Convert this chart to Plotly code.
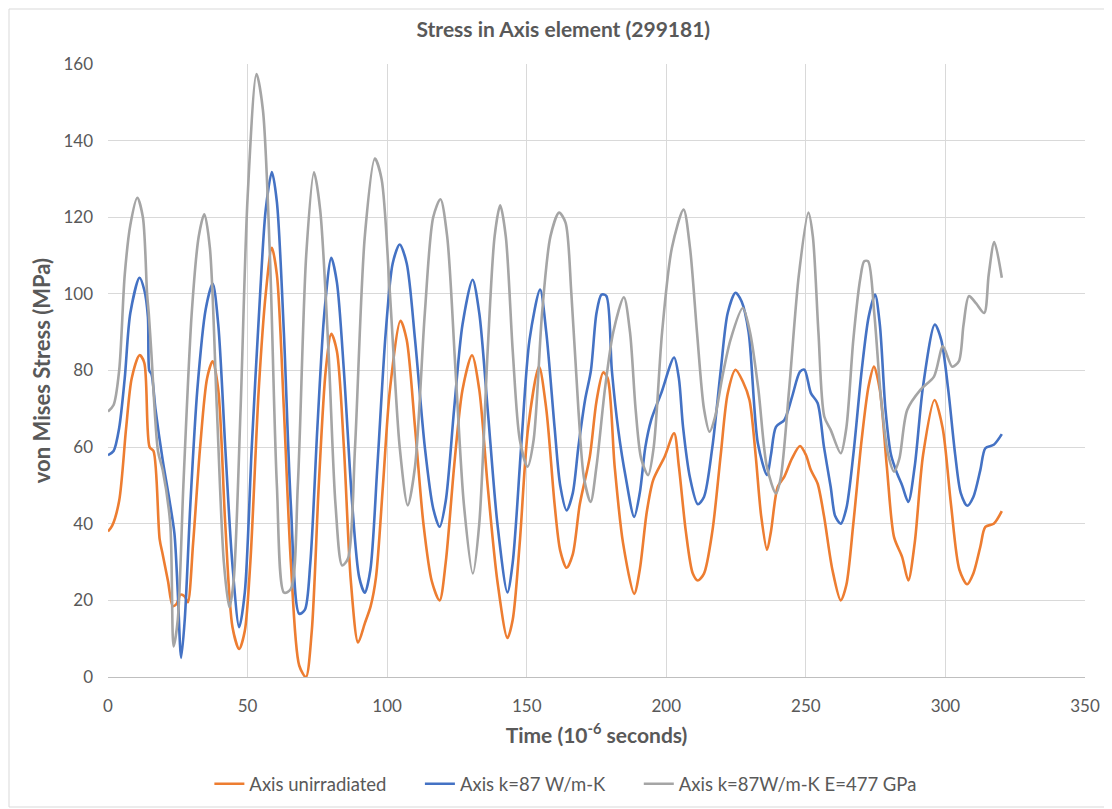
import plotly.graph_objects as go

# ---- data (time in 10^-6 s, von Mises stress in MPa) ----
t_unirr = [0, 1.5, 4, 6.5, 8.5, 11.3, 13, 14.9, 16.3, 18.5, 19.6, 21.5, 23.2, 24.5, 26, 27.5, 28.6, 30.5, 33, 35.5, 37.5,
           39.5, 42, 44.6, 47, 49, 51, 54, 56.5, 58.7, 60.5, 63, 65.5, 68.5, 70.9, 73, 75.5, 78, 80, 82, 84.5, 87, 89.6,
           92, 94.1, 96, 98.5, 101, 104.8, 107, 110, 113, 116, 118.8, 121, 124, 127, 130.4, 133, 136, 139.5, 143.1, 145,
           147.5, 150.5, 154.4, 157, 160, 162, 164.3, 166.5, 169, 172.6, 175, 177.4, 179, 181.5, 184.5, 188.5, 190.5,
           193, 195.3, 199.4, 202.8, 204.5, 207, 209.5, 211.3, 213.5, 216.5, 219.5, 222, 224.8, 227.5, 229.8, 232, 234,
           236.1, 237.5, 239.9, 242.3, 245, 247.9, 250, 251.8, 254.2, 256.5, 259.5, 262.5, 264.5, 267, 270, 272.5,
           274.4, 276.5, 279, 281.6, 284.5, 286.7, 289, 292, 296.1, 299, 302, 305, 307.8, 310, 312.5, 314.3, 317.3, 320.2]
v_unirr = [38, 39.5, 46, 65, 78, 84, 82, 60, 59, 36, 32, 25, 18.5, 19, 21.5, 21, 19.5, 35, 60, 78, 82.4,
           75, 40, 13, 7.3, 12, 30, 75, 100, 112, 105, 70, 30, 3, 0, 12, 50, 80, 89.6, 85, 60, 25, 9,
           14, 18.5, 26, 50, 75, 93, 88, 65, 40, 25, 20, 30, 55, 75, 84, 75, 50, 25, 10.2, 15,
           35, 65, 81, 70, 45, 33, 28.5, 32, 45, 57.5, 72, 79.5, 78, 55, 35, 21.7, 28,
           43, 51.4, 57.5, 63.6, 55, 38, 27, 25.2, 27, 38, 58, 74, 80.2, 77, 72.3, 58, 42,
           33.2, 38, 49.6, 52.3, 57, 60.3, 58, 54, 50.5, 42, 28, 20, 24, 40, 62, 76,
           81, 75, 55, 36.5, 31.3, 25.2, 35, 58, 72.3, 65, 45, 28, 24.2, 27, 34, 39.2, 40, 43.3]

t_k87 = [0, 2, 4, 6, 8, 11.3, 13, 14.3, 14.8, 15.6, 17, 19.6, 22, 23.8, 25, 26.2, 27.5, 29.5, 32, 35, 37.5,
         39.5, 42, 44.5, 47, 49, 51.5, 54.5, 56.5, 58.7, 60.5, 63, 65.5, 68.5, 70.5, 72.5, 75, 77.5, 80, 82, 84.5,
         87.5, 90, 92, 94, 96.5, 99.5, 102, 104.5, 107, 110, 113.5, 116.5, 118.8, 121, 124, 127, 130.6, 133, 136,
         139.5, 143.1, 145, 148, 151, 154.8, 157, 160, 162, 164.3, 166.5, 168.5, 170.9, 173, 175, 176.8, 178.5,
         180.5, 182.8, 185.5, 188.5, 190.5, 192.5, 194.6, 198.2, 202.8, 204.5, 206, 208.5, 211.3, 213.5, 216.5,
         219.5, 222, 224.8, 227, 229.5, 232.8, 236.1, 237.5, 239.3, 242.3, 245, 247.9, 249.5, 251.8, 254.2, 256.5,
         258.9, 260.5, 262.5, 264.5, 267, 270, 272.5, 274.8, 276.5, 278.5, 280.5, 282.7, 284.5, 286.7, 289, 292,
         296.2, 298.5, 301, 303.5, 305.5, 307.8, 310, 312.5, 314.3, 317.3, 320.2]
v_k87 = [57.9, 59, 65, 78, 95, 104.2, 101, 94, 80, 79, 70, 56.6, 46.2, 37.4, 22, 5, 15, 45, 75, 96, 102.7,
         92, 60, 30, 13, 22, 60, 100, 122, 131.8, 124, 90, 45, 16.5, 17.5, 30, 65, 95, 109.4, 103, 80,
         45, 26, 22, 28, 55, 90, 108, 112.9, 108, 88, 60, 44, 39.2, 46, 70, 92, 103.7, 95, 70,
         40, 22.1, 30, 60, 88, 101.1, 90, 65, 50, 43.5, 48, 60, 72.3, 80, 95, 99.8, 99.5,
         80, 64.5, 52, 41.8, 48, 60, 67.1, 74.1, 83.4, 78, 65.3, 52, 45.1, 47, 60,
         80, 95, 100.3, 98, 90, 61, 52.7, 58, 65.3, 67.1, 73, 79.7, 80.2, 74.1, 71.5, 60,
         49.6, 42, 40, 44, 58, 80, 94, 99.8, 92, 70, 58, 53.1, 50, 45.7, 55, 76,
         92, 88, 75, 58, 48, 44.7, 47, 54, 59.7, 60.6, 63.4]

t_k87e = [0, 2, 4, 6, 8, 10.5, 12.5, 14, 14.6, 15.5, 17.9, 19.6, 22.3, 23.5, 25, 27, 30, 32.5, 34.5, 36.5, 39,
          41.5, 43.5, 45, 47.5, 50, 53.2, 55.5, 58, 60.5, 63.1, 65.5, 68, 71, 73.8, 76, 79, 81.5, 83.9, 86, 88.5,
          92, 95.6, 98, 101, 104.5, 107.4, 110, 113.5, 116.5, 119.1, 121.5, 124.5, 127.5, 130.7, 133, 136, 138.5,
          140.5, 142.5, 145, 147.5, 150.3, 152.5, 155.5, 158.5, 161.6, 163.9, 166, 168.5, 170.5, 172.9, 175, 178,
          181, 184.8, 187, 189, 191, 193.5, 195.5, 198.5, 202, 206.2, 208.5, 211, 213.5, 215.5, 217.5, 220, 223,
          227.4, 230, 233, 236, 239.3, 241, 244, 247.5, 250.9, 252.5, 254.5, 256.6, 258.9, 262.5, 264.5, 267,
          269.5, 270.9, 272.3, 274.5, 277, 279.5, 281.6, 283.5, 286.3, 291.1, 295.9, 299.1, 302.4, 304.8, 306.5,
          308.4, 311, 313.9, 315.5, 317.5, 320.2]
v_k87e = [69.3, 71, 80, 105, 118, 125.1, 120, 100, 95, 85, 59, 54, 40, 8, 15, 50, 95, 115, 120.8, 112, 70,
          30, 18.2, 25, 70, 125, 157.4, 148, 110, 50, 22, 23, 50, 110, 131.7, 122, 85, 45, 29.1, 31, 60,
          115, 135.3, 130, 100, 60, 44.8, 55, 95, 120, 124.7, 115, 80, 45, 27, 40, 85, 115,
          123.1, 115, 85, 62, 54.9, 62, 95, 115, 121.2, 118.6, 100, 70, 52, 45.7, 55, 75,
          90, 99.1, 90, 70, 57, 52.7, 60, 90, 112, 122, 112, 90, 70, 64, 68, 78, 88,
          96.3, 90, 75, 55, 47.9, 52, 75, 105, 121.2, 115, 90, 68, 64.5, 58.4, 65, 88,
          104, 108.5, 108.5, 95, 72, 58, 53.6, 57, 69.7, 75, 78.4, 86.3, 81, 82.4, 92,
          99.4, 97.5, 95, 105, 113.5, 104.2]

series_names = ["Axis unirradiated", "Axis k=87 W/m-K", "Axis k=87W/m-K E=477 GPa"]
series_colors = ["#ED7D31", "#4472C4", "#A5A5A5"]

x_ticks = [0, 50, 100, 150, 200, 250, 300, 350]
y_ticks = [0, 20, 40, 60, 80, 100, 120, 140, 160]

FONT = "Lato, 'Open Sans', sans-serif"
TXT = "#595959"
PAD = "\u00a0" * 6  # spacing after each legend entry

fig = go.Figure()
for (tx, vy), name, col in zip([(t_unirr, v_unirr), (t_k87, v_k87), (t_k87e, v_k87e)], series_names, series_colors):
    fig.add_trace(go.Scatter(x=tx, y=vy, name=name + PAD, mode="lines",
                             line=dict(color=col, width=2.6, shape="spline", smoothing=0.8)))

# page body has an 8px margin: figure is drawn 8px in from the top-left corner
fig.update_layout(
    width=1104, height=801,
    paper_bgcolor="white", plot_bgcolor="white",
    margin=dict(l=100, r=27, t=56, b=132),
    font=dict(family=FONT, color=TXT, size=17),
    title=dict(text="<b>Stress in Axis element (299181)</b>", x=0.503, xref="container", xanchor="center",
               y=0.9725, yref="container", yanchor="middle", font=dict(size=21, color=TXT, family=FONT)),
    legend=dict(orientation="h", x=0.518, xanchor="center", xref="container", y=0.031, yref="container",
                yanchor="middle", font=dict(size=18.5, color=TXT, family=FONT), traceorder="normal"),
    showlegend=True,
)
fig.update_xaxes(range=[0, 350], tickvals=x_ticks, showgrid=True, gridcolor="#D9D9D9", gridwidth=1,
                 showline=True, linecolor="#BFBFBF", linewidth=1, zeroline=False, ticks="",
                 tickfont=dict(size=17, color=TXT), ticklabelstandoff=14,
                 title=dict(text="<b>Time (10<sup>-6</sup> seconds)</b>", font=dict(size=21, color=TXT), standoff=12))
fig.update_yaxes(range=[0, 160], tickvals=y_ticks, showgrid=True, gridcolor="#D9D9D9", gridwidth=1,
                 showline=False, zeroline=False, ticks="", tickfont=dict(size=17, color=TXT),
                 ticklabelstandoff=14,
                 title=dict(text="<b>von Mises Stress (MPa)</b>", font=dict(size=22, color=TXT), standoff=6))

# chart-area border
fig.add_shape(type="rect", xref="paper", yref="paper", x0=-99/977, x1=1000/977,
              y0=-130/613, y1=668/613, line=dict(color="#D9D9D9", width=1), fillcolor="rgba(0,0,0,0)", layer="below")

fig.write_html("out.html")
